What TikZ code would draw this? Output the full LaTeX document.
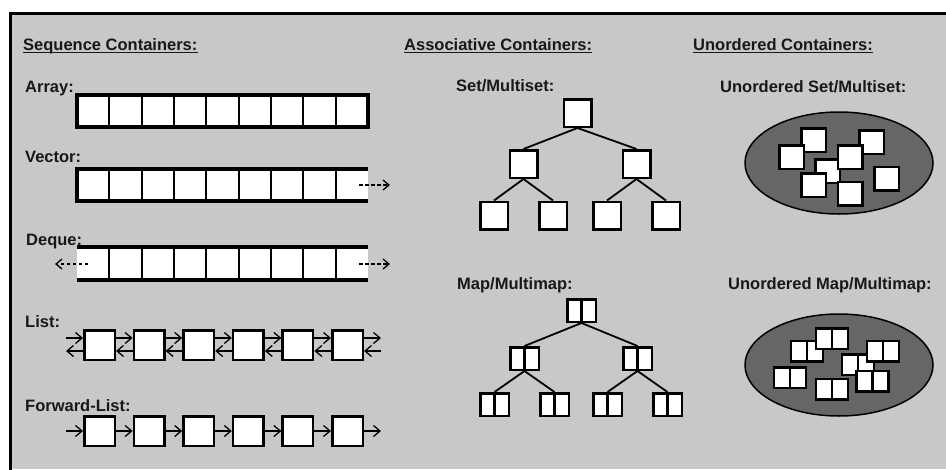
\documentclass[tikz,border=0pt]{standalone}
\usepackage{fontspec}
\setmainfont{Liberation Sans}
\usetikzlibrary{arrows.meta,shapes.geometric}
\definecolor{bg}{RGB}{200,200,200}
\definecolor{ellfill}{RGB}{102,102,102}
\definecolor{txt}{RGB}{24,24,24}
\begin{document}
\begin{tikzpicture}[x=1pt,y=-1pt,
  lbl/.style={anchor=base west,inner sep=0pt,font=\fontsize{16.5}{19}\selectfont\bfseries,text=txt},
  uline/.style={line width=1.6pt,draw=txt},
  cell/.style={rectangle,fill=white,inner sep=0pt,outer sep=0pt,minimum width=32.33pt,minimum height=32pt},
  divline/.style={line width=2.2pt},
  rim/.style={line width=4pt},
  sqbox/.style={rectangle,draw=black,fill=white,line width=2.5pt,inner sep=0pt},
  treebox/.style={sqbox,minimum width=27.5pt,minimum height=27.5pt},
  pairbox/.style={sqbox,minimum width=#1,
    path picture={\draw[line width=2.2pt] (path picture bounding box.north) -- (path picture bounding box.south);}},
  treepair/.style={pairbox=28.5pt,minimum height=22.5pt},
  listbox/.style={sqbox,minimum width=30.5pt,minimum height=29.5pt},
  uset/.style={sqbox,minimum width=24.5pt,minimum height=23.5pt},
  umap/.style={pairbox=32pt,minimum height=20.5pt},
  edge/.style={line width=1.8pt},
  arr/.style={line width=1.3pt,-{Straight Barb[length=6.5pt,width=11pt]}},
  dasharr/.style={line width=1.3pt,dash pattern=on 3.5pt off 2.5pt,-{Straight Barb[length=6pt,width=10pt]}},
  cloud/.style={ellipse,draw=black,line width=1.5pt,fill=ellfill,minimum width=188pt,minimum height=102pt,inner sep=0pt}
]
\useasboundingbox (0,0) rectangle (946,469);
\fill[white] (0,0) rectangle (946,469);
\fill[bg] (10,13.5) rectangle (946,469);
\draw[line width=3pt] (10,470) -- (10,13.5) -- (947,13.5);

% headers
\node[lbl] (hseq) at (23,50) {Sequence Containers:};
\node[lbl] (hass) at (404,50) {Associative Containers:};
\node[lbl] (huno) at (693,50) {Unordered Containers:};
\foreach \h in {hseq,hass,huno}
  \draw[uline] ([yshift=-2.5pt]\h.base west) -- ([yshift=-2.5pt]\h.base east);

% labels
\node[lbl] (larr) at (25,92.5) {Array:};
\node[lbl] (lvec) at (25,162) {Vector:};
\node[lbl] (ldeq) at (26,245) {Deque:};
\node[lbl] (llist) at (25,327) {List:};
\node[lbl] (lfwd) at (25,411) {Forward-List:};
\node[lbl] (lset) at (456,91.5) {Set/Multiset:};
\node[lbl] (lmap) at (457,289) {Map/Multimap:};
\node[lbl] (luset) at (720,92) {Unordered Set/Multiset:};
\node[lbl] (lumap) at (728,289) {Unordered Map/Multimap:};

% Array
\foreach \i in {1,...,9}
  \node[cell] (a\i) at ({77+32.33*(\i-0.5)},111) {};
\foreach \i in {1,...,8}
  \draw[divline] (a\i.north east) -- (a\i.south east);
\draw[rim] (a1.north west) rectangle (a9.south east);

% Vector
\foreach \i in {1,...,9}
  \node[cell] (v\i) at ({77+32.33*(\i-0.5)},185) {};
\foreach \i in {1,...,8}
  \draw[divline] (v\i.north east) -- (v\i.south east);
\draw[rim] (v9.north east) -- (v1.north west) -- (v1.south west) -- (v9.south east);
\coordinate (vs) at (359,185);
\coordinate (ve) at (390,185);
\draw[dasharr] (vs) -- (ve);

% Deque
\foreach \i in {1,...,9}
  \node[cell,minimum height=33pt] (d\i) at ({77+32.33*(\i-0.5)},263.5) {};
\foreach \i in {1,...,8}
  \draw[divline] (d\i.north east) -- (d\i.south east);
\draw[rim] (d1.north west) -- (d9.north east);
\draw[rim] (d1.south west) -- (d9.south east);
\coordinate (dls) at (88,264);
\coordinate (dle) at (55,264);
\coordinate (drs) at (359,264);
\coordinate (dre) at (390,264);
\draw[dasharr] (dls) -- (dle);
\draw[dasharr] (drs) -- (dre);

% List
\foreach \i in {1,...,6}
  \node[listbox] (l\i) at ({99.5+49.6*(\i-1)},345) {};
\coordinate (ls) at (66,345);
\coordinate (le) at (381,345);
\draw[arr] ([yshift=7pt]ls) -- ([yshift=7pt]l1.west);
\draw[arr] ([yshift=-6pt]l1.west) -- ([yshift=-6pt]ls);
\foreach \i/\j in {1/2,2/3,3/4,4/5,5/6}{
  \draw[arr] ([yshift=7pt]l\i.east) -- ([yshift=7pt]l\j.west);
  \draw[arr] ([yshift=-6pt]l\j.west) -- ([yshift=-6pt]l\i.east);
}
\draw[arr] ([yshift=7pt]l6.east) -- ([yshift=7pt]le);
\draw[arr] ([yshift=-6pt]le) -- ([yshift=-6pt]l6.east);

% Forward list
\foreach \i in {1,...,6}
  \node[listbox] (f\i) at ({99.5+49.6*(\i-1)},431) {};
\coordinate (fs) at (66,431);
\coordinate (fe) at (381,431);
\draw[arr] (fs) -- (f1.west);
\foreach \i/\j in {1/2,2/3,3/4,4/5,5/6}
  \draw[arr] (f\i.east) -- (f\j.west);
\draw[arr] (f6.east) -- (fe);

% Set tree
\node[treebox] (s0) at (577.5,113) {};
\node[treebox] (s1) at (523.5,164) {};
\node[treebox] (s2) at (636.5,164) {};
\node[treebox] (s3) at (494,215.5) {};
\node[treebox] (s4) at (553,215.5) {};
\node[treebox] (s5) at (607,215.5) {};
\node[treebox] (s6) at (666,215.5) {};
\draw[edge] (s0.south) -- (s1.north);
\draw[edge] (s0.south) -- (s2.north);
\draw[edge] (s1.south) -- (s3.north);
\draw[edge] (s1.south) -- (s4.north);
\draw[edge] (s2.south) -- (s5.north);
\draw[edge] (s2.south) -- (s6.north);

% Map tree
\node[treepair] (m0) at (581.5,310.5) {};
\node[treepair] (m1) at (524.5,358.5) {};
\node[treepair] (m2) at (637.5,358.5) {};
\node[treepair] (m3) at (494.5,404.5) {};
\node[treepair] (m4) at (554.5,404.5) {};
\node[treepair] (m5) at (607.5,404.5) {};
\node[treepair] (m6) at (667.5,404.5) {};
\draw[edge] (m0.south) -- (m1.north);
\draw[edge] (m0.south) -- (m2.north);
\draw[edge] (m1.south) -- (m3.north);
\draw[edge] (m1.south) -- (m4.north);
\draw[edge] (m2.south) -- (m5.north);
\draw[edge] (m2.south) -- (m6.north);

% Unordered set
\node[cloud] (e1) at (839,163) {};
\node[uset] (u1) at (813.7,140.2) {};
\node[uset] (u2) at (791.5,157) {};
\node[uset] (u5) at (827.5,171) {};
\node[uset] (u3) at (871.5,142) {};
\node[uset] (u4) at (850,157) {};
\node[uset] (u6) at (813.5,185) {};
\node[uset] (u7) at (850,193.5) {};
\node[uset] (u8) at (886.5,178.5) {};

% Unordered map
\node[cloud] (e2) at (839,365) {};
\node[umap] (p2) at (807,351) {};
\node[umap] (p1) at (832,338.5) {};
\node[umap] (p5) at (858,364.5) {};
\node[umap] (p6) at (883,351) {};
\node[umap] (p7) at (872.5,381) {};
\node[umap] (p3) at (790,377.5) {};
\node[umap] (p4) at (832,389) {};
\end{tikzpicture}
\end{document}
